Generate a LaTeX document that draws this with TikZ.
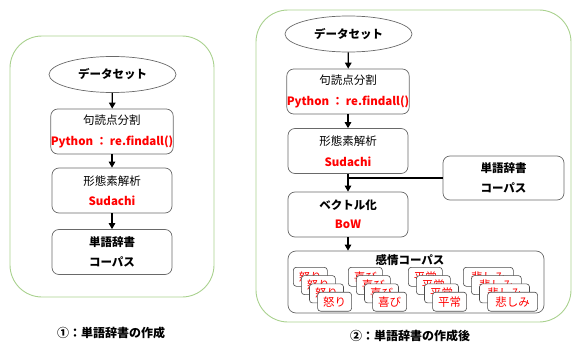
\documentclass[tikz,border=0pt]{standalone}
\usepackage{fontspec}
\setmainfont{Noto Sans CJK JP}
\usetikzlibrary{arrows.meta,shapes.geometric}
\definecolor{panelgreen}{RGB}{169,209,142}
\definecolor{boxgray}{RGB}{105,105,105}
\definecolor{txtred}{RGB}{255,0,0}
\begin{document}
\begin{tikzpicture}[x=1pt,y=-1pt,
  panel/.style={draw=panelgreen, line width=0.9pt, rounded corners=32pt},
  startnode/.style={ellipse, draw=boxgray, line width=0.7pt, minimum width=127pt, minimum height=36pt, inner sep=0pt, font=\fontsize{11.5}{14}\selectfont\bfseries},
  procbox/.style={draw=boxgray, line width=0.7pt, rounded corners=7pt, minimum width=120pt, minimum height=45pt, inner sep=0pt, align=center, font=\fontsize{11.5}{20.5}\selectfont},
  flow/.style={line width=1.3pt, -{Triangle[length=6pt,width=6.5pt]}},
  joinline/.style={line width=1.3pt},
  card/.style={draw=black!70, line width=0.6pt, fill=white, rounded corners=3pt, minimum height=19pt, inner sep=0pt, text=txtred, font=\fontsize{11.5}{13}\selectfont, anchor=north west},
  caption/.style={font=\fontsize{12}{14}\selectfont\bfseries}
]
\useasboundingbox (0,0) rectangle (573,345);

% panels
\draw[panel] (10,36) rectangle (214,297);
\draw[panel] (256,10) rectangle (571,322);

% left flow
\node[startnode] (le) at (112.5,74.5) {データセット};
\node[procbox] (l1) at (112,131.5) {句読点分割\\\textcolor{txtred}{\bfseries Python ： re.findall()}};
\node[procbox] (l2) at (112,190.5) {形態素解析\\\textcolor{txtred}{\bfseries Sudachi}};
\node[procbox, font=\fontsize{11.5}{20.5}\selectfont\bfseries] (l3) at (112,252) {単語辞書\\コーパス};
\draw[flow] (le) -- (l1);
\draw[flow] (l1) -- (l2);
\draw[flow] (l2) -- (l3);
\node[caption] (cap1) at (111,333) {①：単語辞書の作成};

% right flow
\node[startnode] (re) at (348.5,34) {データセット};
\node[procbox] (r1) at (348,91.5) {句読点分割\\\textcolor{txtred}{\bfseries Python ： re.findall()}};
\node[procbox] (r2) at (348,151) {形態素解析\\\textcolor{txtred}{\bfseries Sudachi}};
\node[procbox, font=\fontsize{11.5}{19}\selectfont] (r3) at (348,214.5) {\bfseries ベクトル化\\\textcolor{txtred}{\bfseries BoW}};
\node[procbox, minimum width=121pt, minimum height=44pt, font=\fontsize{11.5}{20.5}\selectfont\bfseries] (dict) at (503.5,178) {単語辞書\\コーパス};
\node[draw=boxgray, line width=0.7pt, rounded corners=8pt, minimum width=256pt, minimum height=62pt, inner sep=0pt] (corpus) at (416,282) {};
\node[font=\fontsize{11.5}{14}\selectfont\bfseries] (ctitle) at (410,260) {感情コーパス};
\coordinate (j) at (dict.west -| r2.south);
\draw[flow] (re) -- (r1);
\draw[flow] (r1) -- (r2);
\draw[flow] (r2) -- (r3);
\draw[joinline] (dict.west) -- (j);
\draw[flow] (r3.south) -- (r3.south |- corpus.north);

% cards
\foreach \gx/\w/\t [count=\g] in {293/34/怒り, 348/34/喜び, 408/34/平常, 463/50/悲しみ} {
  \foreach \i in {0,...,3} {
    \node[card, minimum width=\w pt] (c\g-\i) at ({\gx+8.1*\i},{267+8.3*\i}) {\t};
  }
}
\node[caption] (cap2) at (410,336) {②：単語辞書の作成後};
\end{tikzpicture}
\end{document}
